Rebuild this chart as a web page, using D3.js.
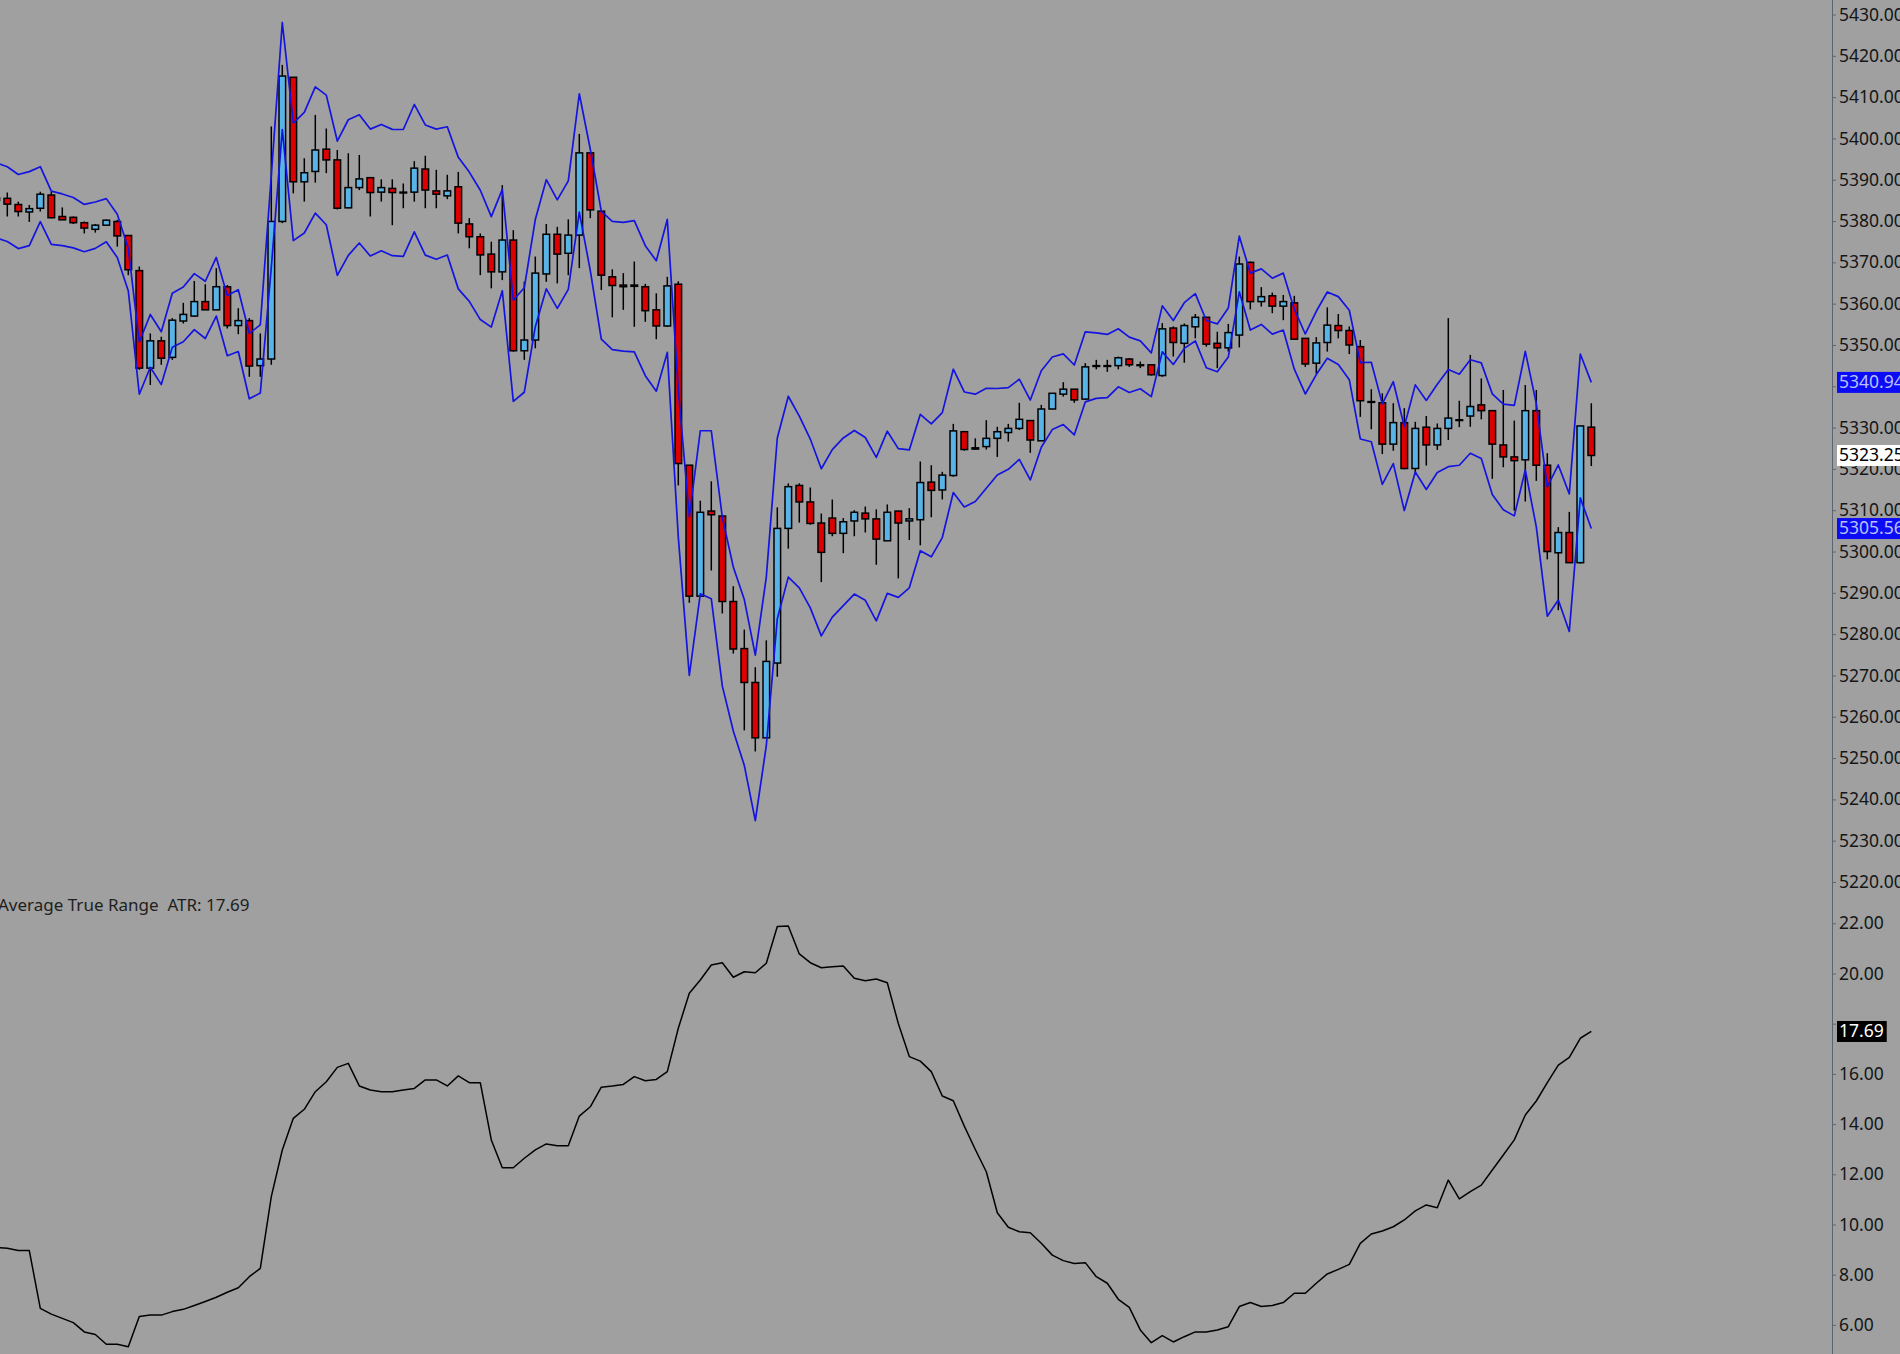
<!DOCTYPE html>
<html><head><meta charset="utf-8">
<script src="https://cdn.jsdelivr.net/npm/d3@7"></script>
<style>
html,body{margin:0;padding:0;background:#a0a0a0;overflow:hidden;}
svg{display:block;}
</style></head><body>
<svg id="c" width="1900" height="1354"></svg>
<script>
// ---- DATA (bar index 0 is partly off the left edge) ----
const openP = [5385.6,5385.5,5384.0,5382.2,5383.1,5386.3,5381.1,5380.9,5379.6,5378.0,
5379.0,5379.9,5376.5,5368.0,5344.4,5351.0,5347.0,5355.8,5357.0,5360.5,
5358.5,5364.1,5354.7,5355.9,5345.0,5346.6,5379.9,5414.8,5389.5,5392.0,
5397.4,5394.8,5383.2,5388.1,5390.5,5387.0,5387.9,5387.0,5387.0,5392.6,
5387.3,5386.1,5388.3,5379.3,5376.2,5372.0,5367.7,5375.4,5348.6,5351.2,
5367.2,5376.8,5372.2,5376.6,5396.5,5382.4,5366.5,5364.5,5364.5,5364.1,
5358.5,5354.6,5364.7,5320.9,5289.2,5309.8,5308.6,5287.9,5276.5,5268.3,
5254.9,5273.0,5305.6,5316.0,5312.0,5306.9,5308.1,5304.4,5307.4,5309.3,
5307.9,5302.6,5309.8,5307.4,5307.7,5316.8,5314.9,5318.4,5329.0,5324.8,
5325.4,5327.4,5328.8,5329.8,5331.7,5326.8,5334.5,5338.1,5339.3,5336.9,
5344.9,5345.0,5345.0,5346.6,5345.1,5345.2,5342.6,5354.1,5350.4,5354.4,
5356.7,5350.4,5349.3,5352.4,5370.0,5360.5,5361.9,5359.4,5360.2,5351.6,
5345.6,5350.6,5354.7,5353.5,5349.6,5336.3,5336.0,5326.0,5331.2,5320.1,
5330.1,5325.8,5329.8,5331.8,5332.8,5335.5,5334.1,5325.8,5322.9,5322.2,
5334.1,5320.9,5299.7,5304.6,5297.3,5330.1];
const highP = [5387.0,5386.9,5384.7,5383.9,5387.1,5387.1,5383.3,5381.1,5379.9,5379.3,
5380.4,5380.3,5376.6,5369.0,5352.8,5352.0,5356.5,5360.2,5365.5,5364.7,
5368.6,5364.5,5358.9,5356.5,5352.8,5402.9,5417.8,5414.8,5395.2,5405.7,
5402.4,5397.2,5396.4,5396.0,5390.5,5390.1,5390.1,5389.1,5394.5,5395.8,
5392.4,5391.2,5391.9,5380.7,5377.0,5375.0,5388.7,5377.8,5365.3,5371.4,
5379.3,5378.6,5380.4,5401.1,5396.5,5382.4,5368.3,5367.4,5370.2,5364.8,
5362.5,5366.5,5365.4,5320.9,5312.3,5317.0,5308.6,5291.6,5281.1,5272.0,
5278.5,5310.7,5316.5,5316.5,5315.5,5309.2,5312.6,5308.1,5310.0,5310.9,
5310.2,5311.4,5309.8,5310.5,5321.8,5320.9,5319.3,5330.9,5329.2,5327.4,
5331.8,5330.2,5330.9,5336.0,5331.7,5335.5,5338.4,5341.0,5339.3,5345.6,
5346.4,5346.4,5347.2,5346.8,5346.0,5345.2,5355.3,5354.5,5355.2,5357.5,
5356.8,5353.2,5355.1,5371.4,5370.2,5364.0,5362.7,5362.1,5361.9,5351.6,
5351.9,5359.1,5357.5,5354.5,5351.2,5339.3,5338.3,5335.9,5334.7,5331.4,
5332.8,5331.0,5356.5,5336.5,5347.6,5341.9,5334.1,5339.1,5331.7,5340.3,
5339.1,5323.8,5305.9,5309.6,5330.4,5335.9];
const lowP = [5383.5,5381.1,5381.1,5379.8,5382.3,5380.7,5380.3,5379.3,5377.0,5377.2,
5379.0,5373.8,5366.9,5344.0,5340.3,5345.2,5346.4,5355.2,5356.8,5358.5,
5358.5,5354.0,5352.6,5342.3,5342.3,5345.2,5379.5,5386.7,5384.7,5389.3,
5391.6,5382.8,5383.1,5387.5,5381.1,5384.7,5379.0,5383.1,5384.7,5383.1,
5383.1,5385.3,5377.0,5373.4,5366.9,5363.7,5365.7,5348.4,5346.4,5349.2,
5365.3,5364.9,5366.9,5368.6,5380.7,5363.3,5356.7,5358.5,5354.4,5355.6,
5351.4,5354.4,5316.0,5287.6,5289.2,5295.4,5285.0,5275.3,5256.7,5251.6,
5254.9,5269.7,5300.7,5307.0,5306.5,5292.6,5303.7,5299.6,5303.7,5304.6,
5296.8,5302.6,5293.5,5302.8,5301.5,5308.3,5312.6,5318.1,5324.4,5324.7,
5324.7,5322.9,5326.6,5329.4,5323.9,5326.8,5334.5,5337.5,5336.0,5336.7,
5344.1,5343.5,5344.1,5344.7,5344.4,5342.6,5342.3,5347.2,5345.7,5351.6,
5349.6,5344.4,5348.4,5349.4,5358.6,5359.3,5357.7,5356.0,5351.2,5344.7,
5343.1,5348.4,5351.6,5347.8,5332.6,5329.6,5323.6,5324.4,5319.9,5318.9,
5320.8,5324.6,5327.0,5330.1,5330.2,5332.0,5317.6,5320.4,5309.9,5312.1,
5317.1,5298.1,5285.8,5297.3,5297.1,5320.7];
const closeP = [5385.0,5384.1,5382.3,5383.0,5386.5,5380.8,5380.3,5379.6,5378.3,5379.0,
5380.2,5376.4,5368.2,5344.4,5351.0,5346.8,5356.0,5357.4,5360.5,5358.5,
5364.1,5354.7,5355.9,5344.9,5346.6,5379.9,5415.1,5389.5,5391.7,5397.2,
5394.8,5383.1,5388.1,5390.2,5386.9,5388.1,5386.9,5386.8,5392.8,5387.5,
5386.5,5387.3,5379.5,5376.2,5371.8,5367.7,5375.4,5348.6,5351.2,5367.4,
5376.8,5372.0,5376.6,5396.5,5382.7,5366.9,5364.4,5364.1,5364.2,5358.3,
5354.6,5364.3,5321.3,5289.2,5309.5,5308.9,5287.9,5276.4,5268.3,5254.9,
5273.4,5305.6,5315.7,5312.0,5306.8,5299.8,5304.4,5307.2,5309.5,5307.9,
5303.0,5309.5,5306.9,5307.9,5316.7,5314.8,5318.5,5329.2,5324.7,5325.1,
5327.4,5329.0,5329.8,5332.0,5327.0,5334.5,5338.3,5339.3,5336.7,5344.7,
5345.0,5344.9,5346.9,5345.2,5345.2,5342.8,5353.9,5350.6,5354.7,5356.7,
5350.2,5349.3,5353.0,5369.6,5360.5,5361.7,5359.4,5360.5,5351.4,5345.4,
5350.5,5354.8,5353.5,5350.0,5336.5,5336.2,5326.0,5331.2,5320.1,5329.8,
5325.8,5329.8,5332.3,5331.9,5335.1,5334.1,5326.0,5322.9,5322.0,5334.1,
5320.9,5300.0,5304.6,5297.3,5330.4,5323.25];
const upperBand = [5394.08,5393.15,5391.26,5391.96,5393.16,5387.23,5386.56,5385.69,5384.02,5384.62,
5385.43,5381.63,5373.33,5350.73,5357.39,5353.19,5362.53,5364.02,5367.27,5365.43,
5371.20,5362.00,5363.38,5352.82,5354.85,5391.01,5428.07,5403.73,5406.29,5412.49,
5410.49,5399.36,5404.52,5405.72,5402.26,5403.39,5402.19,5402.16,5408.22,5403.26,
5402.26,5402.82,5395.42,5391.85,5387.45,5381.07,5387.66,5360.86,5363.84,5380.37,
5390.01,5385.14,5389.74,5410.82,5397.39,5382.37,5379.92,5379.68,5380.09,5374.03,
5370.38,5380.39,5339.12,5308.41,5329.24,5329.24,5308.33,5296.25,5288.37,5274.93,
5293.81,5327.47,5337.59,5332.78,5327.23,5320.03,5324.67,5327.50,5329.31,5327.61,
5322.78,5329.13,5324.91,5324.59,5333.21,5330.89,5333.62,5344.13,5338.62,5338.09,
5339.50,5339.47,5339.69,5341.71,5336.67,5343.75,5347.08,5347.86,5345.15,5353.18,
5352.92,5352.56,5353.92,5351.90,5351.00,5348.09,5359.47,5355.92,5360.23,5362.42,
5355.92,5355.10,5358.93,5376.33,5367.39,5368.43,5366.17,5367.39,5358.66,5352.66,
5358.16,5362.83,5361.71,5358.41,5345.75,5345.82,5335.74,5341.11,5330.28,5340.34,
5336.58,5340.47,5344.07,5342.92,5346.41,5345.67,5338.17,5335.67,5335.37,5348.46,
5335.82,5315.65,5320.95,5313.96,5347.82,5340.94];
const lowerBand = [5375.92,5375.05,5373.34,5374.04,5379.84,5374.37,5374.04,5373.51,5372.58,5373.38,
5374.97,5371.17,5363.07,5338.07,5344.61,5340.41,5349.47,5350.78,5353.73,5351.57,
5357.00,5347.40,5348.42,5336.98,5338.35,5368.79,5402.13,5375.27,5377.11,5381.91,
5379.11,5366.84,5371.68,5374.68,5371.54,5372.81,5371.61,5371.44,5377.38,5371.74,
5370.74,5371.78,5363.58,5360.55,5356.15,5354.33,5363.14,5336.34,5338.56,5354.43,
5363.59,5358.86,5363.46,5382.18,5368.01,5351.43,5348.88,5348.52,5348.31,5342.57,
5338.82,5348.21,5303.48,5269.99,5289.76,5288.56,5267.47,5256.55,5248.23,5234.87,
5252.99,5283.73,5293.81,5291.22,5286.37,5279.57,5284.13,5286.90,5289.69,5288.19,
5283.22,5289.87,5288.89,5291.21,5300.19,5298.71,5303.38,5314.27,5310.78,5312.11,
5315.30,5318.53,5319.91,5322.29,5317.33,5325.25,5329.52,5330.74,5328.25,5336.22,
5337.08,5337.24,5339.88,5338.50,5339.40,5337.51,5348.33,5345.28,5349.17,5350.98,
5344.48,5343.50,5347.07,5362.87,5353.61,5354.97,5352.63,5353.61,5344.14,5338.14,
5342.84,5346.77,5345.29,5341.59,5327.25,5326.58,5316.26,5321.29,5309.92,5319.26,
5315.02,5319.13,5320.53,5320.88,5323.79,5322.53,5313.83,5310.13,5308.63,5319.74,
5305.98,5284.35,5288.25,5280.64,5312.98,5305.56];
const atrV = [9.08,9.05,8.96,8.96,6.66,6.43,6.26,6.09,5.72,5.62,
5.23,5.23,5.13,6.33,6.39,6.39,6.53,6.62,6.77,6.93,
7.10,7.30,7.48,7.92,8.25,11.11,12.97,14.23,14.59,15.29,
15.69,16.26,16.42,15.52,15.36,15.29,15.29,15.36,15.42,15.76,
15.76,15.52,15.92,15.65,15.65,13.37,12.26,12.26,12.64,12.97,
13.21,13.14,13.14,14.32,14.69,15.47,15.52,15.58,15.89,15.73,
15.78,16.09,17.82,19.21,19.74,20.34,20.43,19.85,20.07,20.03,
20.41,21.87,21.89,20.78,20.43,20.23,20.27,20.30,19.81,19.71,
19.78,19.63,18.01,16.69,16.51,16.09,15.12,14.93,13.92,12.99,
12.10,10.47,9.89,9.71,9.67,9.25,8.78,8.56,8.45,8.48,
7.92,7.66,7.02,6.70,5.80,5.29,5.57,5.32,5.53,5.72,
5.72,5.80,5.93,6.73,6.89,6.73,6.77,6.89,7.26,7.26,
7.66,8.03,8.21,8.41,9.25,9.62,9.74,9.91,10.18,10.54,
10.78,10.67,11.77,11.02,11.31,11.57,12.17,12.77,13.37,14.36,
14.92,15.65,16.35,16.66,17.42,17.69];
const priceTicks = [5220,5230,5240,5250,5260,5270,5280,5290,5300,5310,5320,5330,5340,5350,5360,5370,5380,5390,5400,5410,5420,5430];
const atrTicks = [6,8,10,12,14,16,18,20,22];
const markers = [
  {panel:"price", value:5340.94, label:"5340.94", bg:"#0b0bf5", fg:"#b8c0ff", full:true},
  {panel:"price", value:5323.25, label:"5323.25", bg:"#ffffff", fg:"#000000", full:true},
  {panel:"price", value:5305.56, label:"5305.56", bg:"#0b0bf5", fg:"#b8c0ff", full:true},
  {panel:"atr",   value:17.69,   label:"17.69",   bg:"#000000", fg:"#ffffff", full:false}
];
const atrTitle = "Average True Range  ATR: 17.69";

// ---- LAYOUT ----
const W = 1900, H = 1354, axisX = 1832;
const FONT = "'Noto Sans', 'DejaVu Sans', sans-serif";
const n = closeP.length;
const svg = d3.select("#c");
svg.append("rect").attr("width", W).attr("height", H).attr("fill", "#a0a0a0");

const x = d3.scaleLinear().domain([0, n - 1]).range([-3.7, -3.7 + 11 * (n - 1)]);
const yP = d3.scaleLinear().domain([5220, 5430]).range([882.0, 14.5]);
const yA = d3.scaleLinear().domain([6, 22]).range([1324.9, 923.3]);

svg.append("defs").append("clipPath").attr("id", "plot")
  .append("rect").attr("x", 0).attr("y", 0).attr("width", axisX).attr("height", H);

const plot = svg.append("g").attr("clip-path", "url(#plot)");
const idx = d3.range(n);

// wicks
plot.append("g").selectAll("line").data(idx).join("line")
  .attr("x1", i => x(i)).attr("x2", i => x(i))
  .attr("y1", i => yP(highP[i])).attr("y2", i => yP(lowP[i]))
  .attr("stroke", "#000").attr("stroke-width", 1.5);

// bodies
plot.append("g").selectAll("rect").data(idx).join("rect")
  .attr("x", i => x(i) - 3.3).attr("width", 6.6)
  .attr("y", i => yP(Math.max(openP[i], closeP[i])))
  .attr("height", i => Math.max(0.8, Math.abs(yP(openP[i]) - yP(closeP[i]))))
  .attr("fill", i => closeP[i] >= openP[i] ? "#58b4e6" : "#dc0000")
  .attr("stroke", "#000").attr("stroke-width", 1.5);

// bands
const bandLine = d3.line().x((d, i) => x(i)).y(d => yP(d));
[upperBand, lowerBand].forEach(b => {
  plot.append("path").datum(b).attr("d", bandLine)
    .attr("fill", "none").attr("stroke", "#1414e0").attr("stroke-width", 1.7)
    .attr("stroke-linejoin", "round");
});

// ATR line
const atrLine = d3.line().x((d, i) => x(i)).y(d => yA(d));
plot.append("path").datum(atrV).attr("d", atrLine)
  .attr("fill", "none").attr("stroke", "#000").attr("stroke-width", 1.5)
  .attr("stroke-linejoin", "round");

// ATR title
svg.append("text").attr("x", -2).attr("y", 904).attr("dominant-baseline", "central")
  .attr("font-family", FONT).attr("font-size", 17).attr("fill", "#1e1e1e")
  .style("white-space", "pre").text(atrTitle);

// axis line
svg.append("line").attr("x1", axisX + 0.5).attr("x2", axisX + 0.5).attr("y1", 0).attr("y2", H)
  .attr("stroke", "#5c6474").attr("stroke-width", 1);

function styleAxis(g) {
  g.select(".domain").remove();
  g.selectAll(".tick line").attr("stroke", "#5c6474");
  g.selectAll(".tick text").attr("font-family", FONT).attr("font-size", 17.5).attr("fill", "#151515");
}
const hidden = (v, panel) => markers.some(m => m.panel === panel && Math.abs((panel === "price" ? yP(m.value) - yP(v) : yA(m.value) - yA(v))) < 9);

const axP = d3.axisRight(yP).tickValues(priceTicks).tickSize(4).tickPadding(3)
  .tickFormat(d => hidden(d, "price") ? "" : d3.format(".2f")(d));
svg.append("g").attr("transform", `translate(${axisX},0)`).call(axP).call(styleAxis);

const axA = d3.axisRight(yA).tickValues(atrTicks).tickSize(4).tickPadding(3)
  .tickFormat(d => hidden(d, "atr") ? "" : d3.format(".2f")(d));
svg.append("g").attr("transform", `translate(${axisX},0)`).call(axA).call(styleAxis);

// value markers
markers.forEach(m => {
  const yy = m.panel === "price" ? yP(m.value) : yA(m.value);
  const g = svg.append("g");
  const t = g.append("text").attr("x", axisX + 7).attr("y", yy).attr("dy", "0.32em")
    .attr("font-family", FONT).attr("font-size", 17.5).attr("fill", m.fg).text(m.label);
  const w = m.full ? (W - axisX - 5) : t.node().getComputedTextLength() + 5;
  g.insert("rect", "text").attr("x", axisX + 5).attr("y", yy - 10.5)
    .attr("width", w).attr("height", 21).attr("fill", m.bg);
});
</script>
</body></html>
